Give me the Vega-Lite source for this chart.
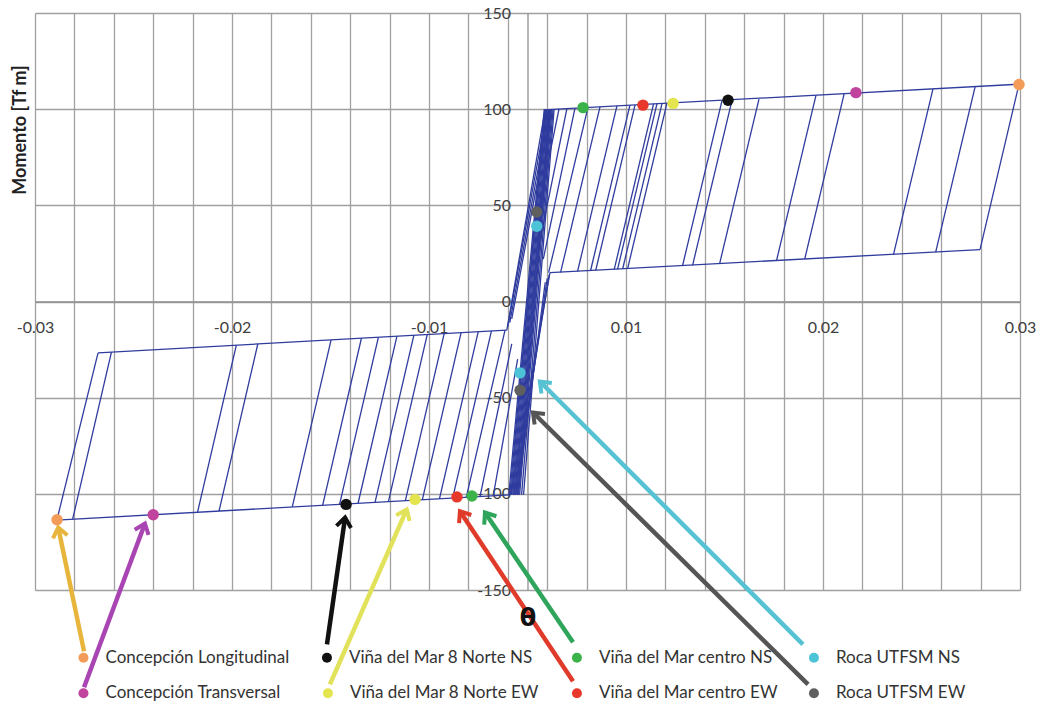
{
  "$schema": "https://vega.github.io/schema/vega-lite/v6.json",
  "width": 985,
  "height": 577,
  "autosize": {"type": "none"},
  "padding": {"left": 35, "top": 13, "right": 26, "bottom": 120},
  "background": "white",
  "config": {"view": {"stroke": null}},
  "datasets": {
    "segs": [
      {"x": 0.00106, "y": 99.8, "x2": 0.025, "y2": 113.0},
      {"x": 0.00114, "y": 15.0, "x2": 0.02297, "y2": 27.0},
      {"x": 0.02495, "y": 113.0, "x2": 0.02297, "y2": 27.0},
      {"x": 0.02272, "y": 111.6, "x2": 0.02072, "y2": 25.7},
      {"x": 0.02058, "y": 110.4, "x2": 0.01858, "y2": 24.5},
      {"x": 0.01607, "y": 107.8, "x2": 0.01407, "y2": 22.0},
      {"x": 0.01464, "y": 107.0, "x2": 0.01264, "y2": 21.2},
      {"x": 0.01175, "y": 105.2, "x2": 0.00975, "y2": 19.6},
      {"x": 0.01038, "y": 104.6, "x2": 0.00838, "y2": 18.8},
      {"x": 0.00987, "y": 104.3, "x2": 0.00787, "y2": 18.6},
      {"x": 0.00708, "y": 103.1, "x2": 0.00508, "y2": 17.0},
      {"x": 0.00683, "y": 103.0, "x2": 0.00483, "y2": 16.9},
      {"x": 0.00657, "y": 102.8, "x2": 0.00457, "y2": 16.7},
      {"x": 0.0064, "y": 102.7, "x2": 0.0044, "y2": 16.6},
      {"x": 0.00546, "y": 102.2, "x2": 0.00346, "y2": 16.1},
      {"x": 0.0052, "y": 102.1, "x2": 0.0032, "y2": 16.0},
      {"x": 0.00454, "y": 101.7, "x2": 0.00254, "y2": 15.6},
      {"x": 0.00368, "y": 101.2, "x2": 0.00168, "y2": 15.1},
      {"x": 0.00307, "y": 100.9, "x2": 0.00107, "y2": 15.0},
      {"x": 0.00241, "y": 100.5, "x2": 0.0008, "y2": 22.0},
      {"x": 0.002, "y": 100.3, "x2": 0.0006, "y2": 30.0},
      {"x": 0.0016, "y": 100.1, "x2": 0.0003, "y2": 35.0},
      {"x": -0.02389, "y": -113.7, "x2": -0.0009, "y2": -100.5},
      {"x": -0.0218, "y": -26.7, "x2": -0.00105, "y2": -14.9},
      {"x": -0.02389, "y": -113.7, "x2": -0.0218, "y2": -26.7},
      {"x": -0.02309, "y": -113.2, "x2": -0.02112, "y2": -26.3},
      {"x": -0.01675, "y": -109.6, "x2": -0.01478, "y2": -22.7},
      {"x": -0.01566, "y": -109.0, "x2": -0.01369, "y2": -22.1},
      {"x": -0.01194, "y": -106.8, "x2": -0.00997, "y2": -20.0},
      {"x": -0.0104, "y": -106.0, "x2": -0.00843, "y2": -19.1},
      {"x": -0.00954, "y": -105.5, "x2": -0.00757, "y2": -18.6},
      {"x": -0.0086, "y": -104.9, "x2": -0.00663, "y2": -18.1},
      {"x": -0.00774, "y": -104.4, "x2": -0.00577, "y2": -17.6},
      {"x": -0.00706, "y": -104.0, "x2": -0.00509, "y2": -17.2},
      {"x": -0.0062, "y": -103.5, "x2": -0.00423, "y2": -16.7},
      {"x": -0.00534, "y": -103.1, "x2": -0.00337, "y2": -16.2},
      {"x": -0.00447, "y": -102.6, "x2": -0.0025, "y2": -15.7},
      {"x": -0.0038, "y": -102.2, "x2": -0.00183, "y2": -15.3},
      {"x": -0.00311, "y": -101.8, "x2": -0.00114, "y2": -14.9},
      {"x": -0.00241, "y": -101.4, "x2": -0.0008, "y2": -22.0},
      {"x": -0.00174, "y": -101.0, "x2": -0.0005, "y2": -30.0},
      {"x": -0.00095, "y": -100.5, "x2": 0.00085, "y2": 100.0},
      {"x": -0.0009, "y": -100.5, "x2": 0.0009, "y2": 100.0},
      {"x": -0.00085, "y": -100.5, "x2": 0.0009, "y2": 100.0},
      {"x": -0.0008, "y": -100.5, "x2": 0.00095, "y2": 100.0},
      {"x": -0.00075, "y": -100.5, "x2": 0.001, "y2": 100.0},
      {"x": -0.0007, "y": -100.5, "x2": 0.00105, "y2": 100.0},
      {"x": -0.00065, "y": -100.5, "x2": 0.0011, "y2": 100.0},
      {"x": -0.0006, "y": -100.5, "x2": 0.00112, "y2": 100.0},
      {"x": -0.00055, "y": -100.5, "x2": 0.00115, "y2": 100.0},
      {"x": -0.0005, "y": -100.5, "x2": 0.00118, "y2": 100.0},
      {"x": -0.00045, "y": -100.5, "x2": 0.0012, "y2": 100.0},
      {"x": -0.0004, "y": -100.5, "x2": 0.00125, "y2": 100.0},
      {"x": -0.0003, "y": -100.5, "x2": 0.0013, "y2": 100.0},
      {"x": -0.0002, "y": -100.5, "x2": 0.00135, "y2": 100.0},
      {"x": 0.00114, "y": 15.0, "x2": -0.00085, "y2": -100.5},
      {"x": 0.0011, "y": 14.0, "x2": -0.0007, "y2": -100.5},
      {"x": 0.001, "y": 12.0, "x2": -0.0006, "y2": -100.5},
      {"x": 0.0009, "y": 10.0, "x2": -0.0005, "y2": -100.5},
      {"x": -0.00105, "y": -14.9, "x2": 0.0009, "y2": 100.0},
      {"x": -0.001, "y": -13.0, "x2": 0.001, "y2": 100.0},
      {"x": -0.0009, "y": -11.0, "x2": 0.0011, "y2": 100.0},
      {"x": -0.0008, "y": -9.0, "x2": 0.0012, "y2": 100.0}
    ],
    "pts": [
      {"station": "Concepción Longitudinal", "x": 0.02495, "y": 112.8},
      {"station": "Concepción Longitudinal", "x": -0.02388, "y": -113.5},
      {"station": "Concepción Transversal", "x": 0.01667, "y": 108.6},
      {"station": "Concepción Transversal", "x": -0.019, "y": -110.9},
      {"station": "Viña del Mar 8 Norte NS", "x": 0.01018, "y": 104.6},
      {"station": "Viña del Mar 8 Norte NS", "x": -0.00921, "y": -105.5},
      {"station": "Viña del Mar 8 Norte EW", "x": 0.00739, "y": 103.0},
      {"station": "Viña del Mar 8 Norte EW", "x": -0.00571, "y": -102.9},
      {"station": "Viña del Mar centro EW", "x": 0.00586, "y": 102.1},
      {"station": "Viña del Mar centro EW", "x": -0.00358, "y": -101.6},
      {"station": "Viña del Mar centro NS", "x": 0.00282, "y": 100.8},
      {"station": "Viña del Mar centro NS", "x": -0.00282, "y": -101.1},
      {"station": "Roca UTFSM EW", "x": 0.00047, "y": 46.5},
      {"station": "Roca UTFSM EW", "x": -0.00038, "y": -46.1},
      {"station": "Roca UTFSM NS", "x": 0.00047, "y": 39.1},
      {"station": "Roca UTFSM NS", "x": -0.00038, "y": -37.1}
    ],
    "stations": [
      {"station": "Concepción Longitudinal", "lx": -0.02254, "ly": -185.2, "ax": -0.02382, "ay": -117.5, "tx": -0.02251, "ty": -181.9},
      {"station": "Concepción Transversal", "lx": -0.02254, "ly": -203.7, "ax": -0.01942, "ay": -115.4, "tx": -0.02251, "ty": -200.6},
      {"station": "Viña del Mar 8 Norte NS", "lx": -0.01018, "ly": -185.2, "ax": -0.00926, "ay": -112.3, "tx": -0.01018, "ty": -178.3},
      {"station": "Viña del Mar 8 Norte EW", "lx": -0.01013, "ly": -203.7, "ax": -0.00613, "ay": -108.1, "tx": -0.01003, "ty": -199.1},
      {"station": "Viña del Mar centro NS", "lx": 0.00251, "ly": -185.2, "ax": -0.00216, "ay": -109.7, "tx": 0.00231, "ty": -177.2},
      {"station": "Viña del Mar centro EW", "lx": 0.00251, "ly": -203.7, "ax": -0.00343, "ay": -109.0, "tx": 0.00231, "ty": -197.5},
      {"station": "Roca UTFSM NS", "lx": 0.01454, "ly": -185.2, "ax": 0.00063, "ay": -41.6, "tx": 0.01398, "ty": -178.3},
      {"station": "Roca UTFSM EW", "lx": 0.01454, "ly": -203.7, "ax": 0.00028, "ay": -57.7, "tx": 0.01424, "ty": -199.1}
    ],
    "notes": [{"x": 0.00003, "y": -165.3, "t": "θ"}]
  },
  "layer": [
    {
      "data": {"name": "segs"},
      "mark": {"type": "rule", "color": "#2f3c9e", "strokeWidth": 1.3},
      "encoding": {
        "x": {
          "field": "x", "type": "quantitative", "title": null,
          "scale": {"domain": [-0.025, 0.025], "nice": false, "zero": false},
          "axis": {
            "title": null, "orient": "bottom", "offset": -288.5, "tickCount": 40,
            "values": [-0.025, -0.023, -0.021, -0.019, -0.017, -0.015, -0.013, -0.011, -0.009, -0.007, -0.005, -0.003, -0.001, 0.001, 0.003, 0.005, 0.007, 0.009, 0.011, 0.013, 0.015, 0.017, 0.019, 0.021, 0.023, 0.025],
            "labelExpr": "abs(datum.value+0.025)<1e-6 ? '-0.03' : abs(datum.value+0.015)<1e-6 ? '-0.02' : abs(datum.value+0.005)<1e-6 ? '-0.01' : abs(datum.value-0.005)<1e-6 ? '0.01' : abs(datum.value-0.015)<1e-6 ? '0.02' : abs(datum.value-0.025)<1e-6 ? '0.03' : ''",
            "grid": true, "gridColor": "#a0a0a0", "gridWidth": 1.3,
            "ticks": false, "domainColor": "#909090", "domainWidth": 1.3,
            "labelFont": "Lato", "labelFontSize": 16, "labelColor": "#404040",
            "labelPadding": 18, "labelFlush": false, "labelOverlap": false
          }
        },
        "y": {
          "field": "y", "type": "quantitative", "title": "Momento [Tf m]",
          "scale": {"domain": [-150, 150], "nice": false},
          "axis": {
            "title": "Momento [Tf m]", "orient": "left", "offset": -492.5, "tickCount": 20,
            "values": [-150, -100, -50, 0, 50, 100, 150],
            "labelExpr": "'' + datum.value",
            "grid": true, "gridColor": "#a0a0a0", "gridWidth": 1.3,
            "ticks": false, "domainColor": "#909090", "domainWidth": 1.3,
            "labelFont": "Lato", "labelFontSize": 16, "labelColor": "#404040",
            "labelPadding": 17, "labelFlush": false, "labelOverlap": false,
            "titleX": -507.5, "titleY": 116.5, "titleAngle": 270,
            "titleAlign": "center", "titleBaseline": "middle",
            "titleFont": "Lato", "titleFontWeight": "bold", "titleFontSize": 18, "titleColor": "#222222"
          }
        },
        "x2": {"field": "x2"},
        "y2": {"field": "y2"}
      }
    },
    {
      "data": {"name": "stations"},
      "mark": {"type": "rule", "strokeWidth": 4.5, "clip": false},
      "encoding": {
        "x": {"field": "tx", "type": "quantitative", "title": null},
        "y": {"field": "ty", "type": "quantitative", "title": "Momento [Tf m]"},
        "x2": {"field": "ax"},
        "y2": {"field": "ay"},
        "color": {
          "field": "station", "type": "nominal", "legend": null,
          "scale": {
            "domain": ["Concepción Longitudinal", "Concepción Transversal", "Viña del Mar 8 Norte NS", "Viña del Mar 8 Norte EW", "Viña del Mar centro NS", "Viña del Mar centro EW", "Roca UTFSM NS", "Roca UTFSM EW"],
            "range": ["#e8b53c", "#a945b3", "#111111", "#e2e25a", "#2ea55a", "#e03a2a", "#56c2d2", "#555555"]
          }
        }
      }
    },
    {
      "data": {"name": "stations"},
      "transform": [
        {"calculate": "atan2((datum.ax - datum.tx) * 19700, (datum.ay - datum.ty) * 1.9233) * 180 / PI", "as": "ang"}
      ],
      "mark": {"type": "point", "shape": "M-0.85,1.1L0,0L0.85,1.1", "filled": false, "size": 300, "strokeWidth": 4, "strokeJoin": "miter", "clip": false, "opacity": 1},
      "encoding": {
        "x": {"field": "ax", "type": "quantitative", "title": null},
        "y": {"field": "ay", "type": "quantitative", "title": "Momento [Tf m]"},
        "angle": {"field": "ang", "type": "quantitative", "scale": null},
        "color": {
          "field": "station", "type": "nominal", "legend": null,
          "scale": {
            "domain": ["Concepción Longitudinal", "Concepción Transversal", "Viña del Mar 8 Norte NS", "Viña del Mar 8 Norte EW", "Viña del Mar centro NS", "Viña del Mar centro EW", "Roca UTFSM NS", "Roca UTFSM EW"],
            "range": ["#e8b53c", "#a945b3", "#111111", "#e2e25a", "#2ea55a", "#e03a2a", "#56c2d2", "#555555"]
          }
        }
      }
    },
    {
      "data": {"name": "pts"},
      "mark": {"type": "point", "filled": true, "size": 130, "opacity": 1, "clip": false},
      "encoding": {
        "x": {"field": "x", "type": "quantitative", "title": null},
        "y": {"field": "y", "type": "quantitative", "title": "Momento [Tf m]"},
        "color": {
          "field": "station", "type": "nominal", "legend": null,
          "scale": {
            "domain": ["Concepción Longitudinal", "Concepción Transversal", "Viña del Mar 8 Norte NS", "Viña del Mar 8 Norte EW", "Viña del Mar centro NS", "Viña del Mar centro EW", "Roca UTFSM NS", "Roca UTFSM EW"],
            "range": ["#f39c5a", "#c0439d", "#111111", "#e4e44e", "#3bb34a", "#e8372b", "#4cc3d6", "#5f5f5f"]
          }
        }
      }
    },
    {
      "data": {"name": "stations"},
      "mark": {"type": "point", "filled": true, "size": 100, "opacity": 1, "clip": false},
      "encoding": {
        "x": {"field": "lx", "type": "quantitative", "title": null},
        "y": {"field": "ly", "type": "quantitative", "title": "Momento [Tf m]"},
        "color": {
          "field": "station", "type": "nominal", "legend": null,
          "scale": {
            "domain": ["Concepción Longitudinal", "Concepción Transversal", "Viña del Mar 8 Norte NS", "Viña del Mar 8 Norte EW", "Viña del Mar centro NS", "Viña del Mar centro EW", "Roca UTFSM NS", "Roca UTFSM EW"],
            "range": ["#f39c5a", "#c0439d", "#111111", "#e4e44e", "#3bb34a", "#e8372b", "#4cc3d6", "#5f5f5f"]
          }
        }
      }
    },
    {
      "data": {"name": "stations"},
      "mark": {"type": "text", "align": "left", "baseline": "middle", "dx": 22, "font": "Lato", "fontSize": 17, "color": "#333333", "clip": false},
      "encoding": {
        "x": {"field": "lx", "type": "quantitative", "title": null},
        "y": {"field": "ly", "type": "quantitative", "title": "Momento [Tf m]"},
        "text": {"field": "station"}
      }
    },
    {
      "data": {"name": "notes"},
      "mark": {"type": "text", "align": "center", "baseline": "middle", "font": "DejaVu Sans", "fontSize": 24, "fontWeight": "bold", "color": "#111111", "clip": false},
      "encoding": {
        "x": {"field": "x", "type": "quantitative", "title": null},
        "y": {"field": "y", "type": "quantitative", "title": "Momento [Tf m]"},
        "text": {"field": "t"}
      }
    }
  ],
  "resolve": {"scale": {"color": "independent"}}
}
